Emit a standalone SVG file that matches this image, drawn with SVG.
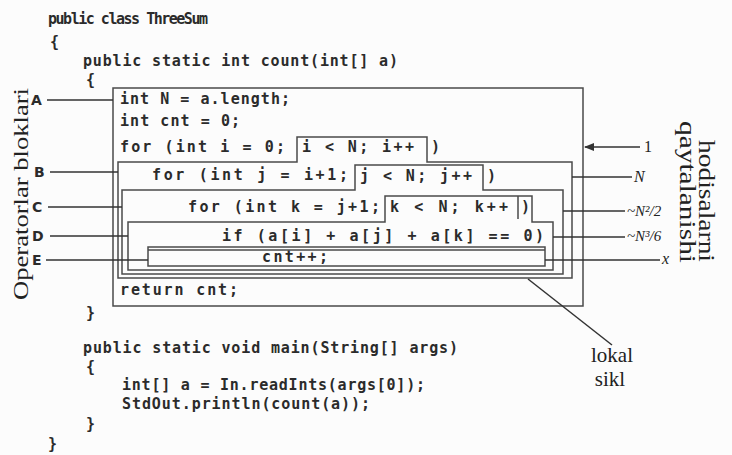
<svg xmlns="http://www.w3.org/2000/svg" width="732" height="455" viewBox="0 0 732 455">
<style>
.code{font-family:"DejaVu Sans Mono","Liberation Mono",monospace;font-weight:bold;font-size:15px;fill:#2b2b2b}
.lbl{font-family:"DejaVu Sans","Liberation Sans",sans-serif;font-weight:bold;font-size:14px;fill:#2b2b2b}
.ser{font-family:"Liberation Serif","DejaVu Serif",serif;fill:#222}
.it{font-style:italic}
.blk{fill:none;stroke:#4a4a4a;stroke-width:1.5}
.con{stroke:#333;stroke-width:1.5;fill:none}
</style>
<defs>
<marker id="arr" viewBox="0 0 10 10" refX="9" refY="5" markerWidth="7" markerHeight="7" orient="auto-start-reverse">
<path d="M0,1 L10,5 L0,9 z" fill="#333"/>
</marker>
</defs>
<rect width="732" height="455" fill="#fcfcfc"/>

<g id="code-outer">
<text class="code" x="48" y="24" font-size="14" textLength="160">public class ThreeSum</text>
<text class="code" x="50" y="47">{</text>
<text class="code" x="83" y="66" textLength="315">public static int count(int[] a)</text>
<text class="code" x="86" y="85">{</text>
<text class="code" x="86" y="318">}</text>
<text class="code" x="83" y="353" textLength="375">public static void main(String[] args)</text>
<text class="code" x="86" y="372">{</text>
<text class="code" x="122" y="390" textLength="303">int[] a = In.readInts(args[0]);</text>
<text class="code" x="122" y="409" textLength="248">StdOut.println(count(a));</text>
<text class="code" x="86" y="429">}</text>
<text class="code" x="48" y="449">}</text>
</g>

<g id="block-A">
<rect class="blk" x="113" y="88" width="470" height="218"/>
<text class="code" x="120" y="104" textLength="170">int N = a.length;</text>
<text class="code" x="120" y="126" textLength="120">int cnt = 0;</text>
<text class="code" x="120" y="152" textLength="165">for (int i = 0;</text>
<text class="code" x="120" y="295" textLength="118">return cnt;</text>
</g>

<g id="block-B">
<polygon class="blk" points="118,162 297,162 297,137 427,137 427,162 572,162 572,278 118,278"/>
<text class="code" x="302" y="152" textLength="112">i &lt; N; i++</text>
<text class="code" x="431" y="152">)</text>
<text class="code" x="152" y="180" textLength="196">for (int j = i+1;</text>
</g>

<g id="block-C">
<polygon class="blk" points="122,190 355,190 355,165 483,165 483,190 563,190 563,274 122,274"/>
<text class="code" x="360" y="181" textLength="112">j &lt; N; j++</text>
<text class="code" x="487" y="181">)</text>
<text class="code" x="188" y="212" textLength="192">for (int k = j+1;</text>
</g>

<g id="block-D">
<polygon class="blk" points="128,222 385,222 385,196 532,196 532,222 553,222 553,270 128,270"/>
<line class="blk" x1="518" y1="196" x2="518" y2="219"/>
<text class="code" x="390" y="212" textLength="118">k &lt; N; k++</text>
<text class="code" x="521" y="212">)</text>
<text class="code" x="222" y="241" textLength="322">if (a[i] + a[j] + a[k] == 0)</text>
</g>

<g id="block-E">
<rect class="blk" x="148" y="247" width="397" height="19"/>
<line class="blk" x1="148" y1="250" x2="545" y2="250"/>
<text class="code" x="262" y="262" textLength="66">cnt++;</text>
</g>

<g id="labels-left">
<text class="lbl" x="31" y="105">A</text>
<text class="lbl" x="34" y="177">B</text>
<text class="lbl" x="32" y="212">C</text>
<text class="lbl" x="32" y="241">D</text>
<text class="lbl" x="32" y="265">E</text>
<text class="ser" font-size="22" text-anchor="middle" textLength="212" lengthAdjust="spacingAndGlyphs" transform="translate(28,194) rotate(-90)">Operatorlar bloklari</text>
</g>

<g id="labels-right">
<text class="ser" font-size="16" x="644" y="152">1</text>
<text class="ser it" font-size="16" x="634" y="182">N</text>
<text class="ser it" font-size="15" x="627" y="216">~N²/2</text>
<text class="ser it" font-size="15" x="627" y="241">~N³/6</text>
<text class="ser it" font-size="16" x="662" y="264">x</text>
<text class="ser" font-size="23" text-anchor="middle" textLength="122" lengthAdjust="spacingAndGlyphs" transform="translate(699,201) rotate(90)">hodisalarni</text>
<text class="ser" font-size="23" text-anchor="middle" textLength="142" lengthAdjust="spacingAndGlyphs" transform="translate(680,192) rotate(90)">qaytalanishi</text>
<text class="ser" font-size="21" text-anchor="middle" x="612" y="362">lokal</text>
<text class="ser" font-size="21" text-anchor="middle" x="610" y="386">sikl</text>
</g>

<g id="connectors">
<line class="con" x1="47" y1="100" x2="113" y2="100"/>
<line class="con" x1="50" y1="172" x2="118" y2="172"/>
<line class="con" x1="48" y1="207" x2="122" y2="207"/>
<line class="con" x1="50" y1="236" x2="128" y2="236"/>
<line class="con" x1="46" y1="260" x2="148" y2="260"/>
<line class="con" x1="640" y1="147" x2="585" y2="147" marker-end="url(#arr)"/>
<line class="con" x1="572" y1="177" x2="632" y2="177"/>
<line class="con" x1="563" y1="211" x2="625" y2="211"/>
<line class="con" x1="553" y1="237" x2="625" y2="237"/>
<line class="con" x1="545" y1="260" x2="660" y2="260"/>
<line class="con" x1="528" y1="279" x2="612" y2="345" stroke-width="2"/>
</g>
</svg>
